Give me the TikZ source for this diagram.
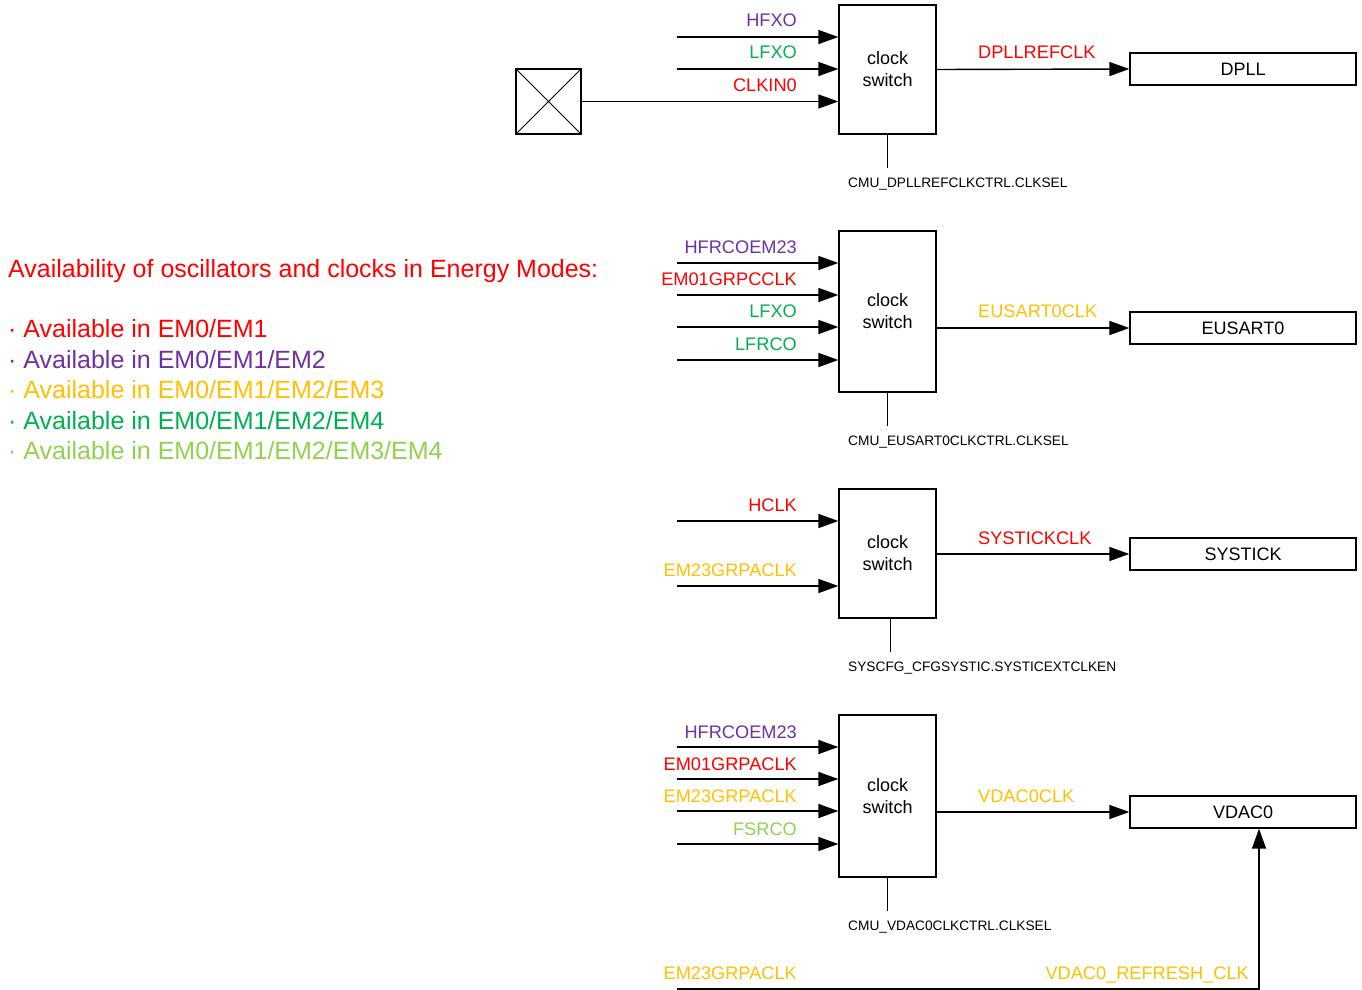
\documentclass[tikz,border=0pt]{standalone}
\usepackage{fontspec}
\setmainfont{Liberation Sans}
\usetikzlibrary{arrows.meta}
\definecolor{emred}{HTML}{FF0000}
\definecolor{empurple}{HTML}{7030A0}
\definecolor{emorange}{HTML}{FFC000}
\definecolor{emgreen}{HTML}{00B050}
\definecolor{emlime}{HTML}{92D050}
\tikzset{switch box/.style={draw,line width=1.3pt,minimum width=97pt,align=center,
                            font=\fontsize{18}{22}\selectfont},
         periph/.style={draw,line width=1.3pt,minimum width=226pt,minimum height=32pt,
                        font=\fontsize{18}{22}\selectfont},
         sig/.style={line width=1.4pt,-{Triangle[length=20pt,width=14pt]}},
         ctrl/.style={line width=1.4pt},
         clk name/.style={font=\fontsize{18.2}{22}\selectfont,inner sep=0pt,anchor=base east},
         out name/.style={font=\fontsize{18.2}{22}\selectfont,inner sep=0pt,anchor=base west},
         sel name/.style={font=\fontsize{13.7}{15}\selectfont,inner sep=0pt,anchor=base west},
         legend/.style={font=\fontsize{25}{28}\selectfont,inner sep=0pt,anchor=base west}}

\begin{document}
\begin{tikzpicture}[x=1pt,y=-1pt]
    \useasboundingbox (0,0) rectangle (1362,990);

    \node[legend,text=emred] (title) at (8,277) {Availability of oscillators and clocks in Energy Modes:};
    \foreach \y/\modes/\col in {337/{EM0/EM1}/emred,368/{EM0/EM1/EM2}/empurple,
                                398/{EM0/EM1/EM2/EM3}/emorange,429/{EM0/EM1/EM2/EM4}/emgreen,
                                459/{EM0/EM1/EM2/EM3/EM4}/emlime}
        \node[legend,text=\col] (em-\y) at (8,\y) {· Available in \modes};

    % DPLL
    \node[switch box,minimum height=129pt] (sw1) at (887.5,69.5) {clock\\switch};
    \node[periph] (dpll) at (1243,69) {DPLL};
    \node[draw,line width=1.3pt,minimum size=65pt] (pad) at (548.5,101.5) {};
    \draw[line width=1pt] (pad.north west) -- (pad.south east) (pad.north east) -- (pad.south west);
    \foreach \y/\name/\col in {37/HFXO/empurple,69/LFXO/emgreen}{
        \coordinate (dp-\y) at (677,\y);
        \draw[sig] (dp-\y) -- (dp-\y -| sw1.west);
        \node[clk name,text=\col] (dpl-\y) at (797,\y-10) {\name};
    }
    \draw[sig] (pad.east) -- (pad.east -| sw1.west);
    \node[clk name,text=emred] (clkin) at (797,91) {CLKIN0};
    \draw[sig] (sw1.east) -- (dpll.west);
    \node[out name,text=emred] (dpllclk) at (978,59) {DPLLREFCLK};
    \draw[ctrl] (sw1.south) -- ++(0,33) coordinate (sel1);
    \node[sel name] (sel1txt) at (848,187) {CMU\_DPLLREFCLKCTRL.CLKSEL};

    % EUSART0
    \node[switch box,minimum height=161pt] (sw2) at (887.5,311.5) {clock\\switch};
    \node[periph] (eusart) at (1243,328) {EUSART0};
    \foreach \y/\name/\col in {263/HFRCOEM23/empurple,295/EM01GRPCCLK/emred,
                               327/LFXO/emgreen,360/LFRCO/emgreen}{
        \coordinate (eu-\y) at (677,\y);
        \draw[sig] (eu-\y) -- (eu-\y -| sw2.west);
        \node[clk name,text=\col] (eul-\y) at (797,\y-10) {\name};
    }
    \draw[sig] (sw2.east |- eusart) -- (eusart.west);
    \node[out name,text=emorange] (eusartclk) at (978,317) {EUSART0CLK};
    \draw[ctrl] (sw2.south) -- ++(0,33) coordinate (sel2);
    \node[sel name] (sel2txt) at (848,445) {CMU\_EUSART0CLKCTRL.CLKSEL};

    % SYSTICK
    \node[switch box,minimum height=129pt] (sw3) at (887.5,553.5) {clock\\switch};
    \node[periph] (systick) at (1243,554) {SYSTICK};
    \foreach \y/\name/\col in {521/HCLK/emred,586/EM23GRPACLK/emorange}{
        \coordinate (st-\y) at (677,\y);
        \draw[sig] (st-\y) -- (st-\y -| sw3.west);
        \node[clk name,text=\col] (stl-\y) at (797,\y-10) {\name};
    }
    \draw[sig] (sw3.east |- systick) -- (systick.west);
    \node[out name,text=emred] (systickclk) at (978,544) {SYSTICKCLK};
    \draw[ctrl] ([xshift=3pt]sw3.south) -- ++(0,33) coordinate (sel3);
    \node[sel name] (sel3txt) at (848,671) {SYSCFG\_CFGSYSTIC.SYSTICEXTCLKEN};

    % VDAC0
    \node[switch box,minimum height=162pt] (sw4) at (887.5,796) {clock\\switch};
    \node[periph] (vdac) at (1243,812) {VDAC0};
    \foreach \y/\name/\col in {747/HFRCOEM23/empurple,779/EM01GRPACLK/emred,
                               811/EM23GRPACLK/emorange,844/FSRCO/emlime}{
        \coordinate (vd-\y) at (677,\y);
        \draw[sig] (vd-\y) -- (vd-\y -| sw4.west);
        \node[clk name,text=\col] (vdl-\y) at (797,\y-9) {\name};
    }
    \draw[sig] (sw4.east |- vdac) -- (vdac.west);
    \node[out name,text=emorange] (vdacclk) at (978,802) {VDAC0CLK};
    \draw[ctrl] (sw4.south) -- ++(0,33) coordinate (sel4);
    \node[sel name] (sel4txt) at (848,930) {CMU\_VDAC0CLKCTRL.CLKSEL};
    \coordinate (refin) at (677,989);
    \draw[sig] (refin) -| ([xshift=16pt]vdac.south);
    \node[clk name,text=emorange] (refsrc) at (797,979) {EM23GRPACLK};
    \node[clk name,text=emorange] (refclk) at (1249,979) {VDAC0\_REFRESH\_CLK};
\end{tikzpicture}
\end{document}
